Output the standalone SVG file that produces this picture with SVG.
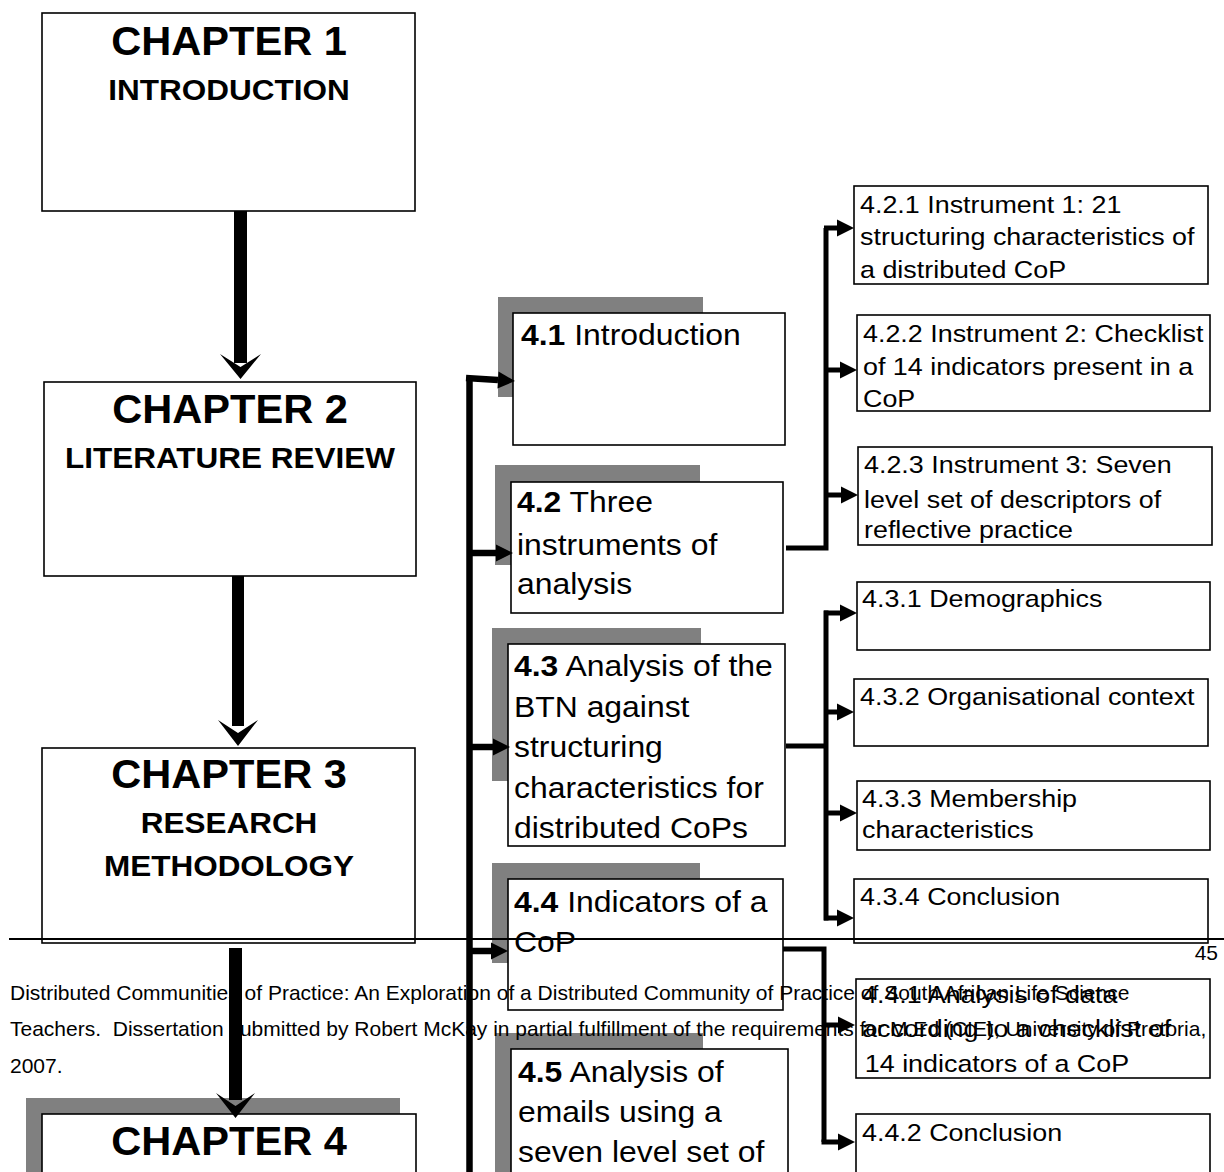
<svg xmlns="http://www.w3.org/2000/svg" width="1224" height="1172" viewBox="0 0 1224 1172">
  <style>
    text { font-family: "Liberation Sans", Arial, sans-serif; fill: #000; }
    .ch { font-size: 40px; font-weight: bold; text-anchor: middle; }
    .sub { font-size: 30px; font-weight: bold; text-anchor: middle; }
    .bx { font-size: 29px; }
    .sm { font-size: 24px; }
    .ft { font-size: 21px; }
    .b { font-weight: bold; }
    .box { fill: #fff; stroke: #000; stroke-width: 1.6; }
    .shadow { fill: #808080; }
    .thick { fill: none; stroke: #000; stroke-width: 6.5; }
    .thin { fill: none; stroke: #000; stroke-width: 5; }
  </style>
  <defs>
    <marker id="tri" markerUnits="userSpaceOnUse" markerWidth="18" markerHeight="18" refX="0" refY="9" orient="auto" overflow="visible">
      <path d="M0,0.5 L17,9 L0,17.5 Z" fill="#000"/>
    </marker>
  </defs>

  <rect width="1224" height="1172" fill="#fff"/>

  <!-- chapter column -->
  <g id="chapter1">
    <rect class="box" x="42" y="13" width="373" height="198"/>
    <text class="ch" transform="translate(229,55) scale(1.04,1)">CHAPTER 1</text>
    <text class="sub" transform="translate(229,100) scale(1.05,1)">INTRODUCTION</text>
  </g>
  <g id="chapter2">
    <rect class="box" x="44" y="382" width="372" height="194"/>
    <text class="ch" transform="translate(230,423) scale(1.04,1)">CHAPTER 2</text>
    <text class="sub" transform="translate(230,468) scale(1.05,1)">LITERATURE REVIEW</text>
  </g>
  <g id="chapter3">
    <rect class="box" x="42" y="748" width="373" height="195"/>
    <text class="ch" transform="translate(229,788) scale(1.04,1)">CHAPTER 3</text>
    <text class="sub" transform="translate(229,833) scale(1.05,1)">RESEARCH</text>
    <text class="sub" transform="translate(229,876) scale(1.05,1)">METHODOLOGY</text>
  </g>
  <g id="chapter4">
    <rect class="shadow" x="26" y="1098" width="374" height="100"/>
    <rect class="box" x="42" y="1114" width="374" height="90"/>
    <text class="ch" transform="translate(229,1155) scale(1.04,1)">CHAPTER 4</text>
  </g>

  <!-- section column -->
  <g id="s4-1">
    <rect class="shadow" x="498" y="297" width="205" height="100"/>
    <rect class="box" x="513" y="313" width="272" height="132"/>
    <text class="bx" transform="translate(521,345) scale(1.1,1)"><tspan class="b">4.1</tspan> Introduction</text>
  </g>
  <g id="s4-2">
    <rect class="shadow" x="495" y="465" width="205" height="100"/>
    <rect class="box" x="511" y="482" width="272" height="131"/>
    <text class="bx" transform="translate(517,0) scale(1.1,1)"><tspan x="0" y="512"><tspan class="b">4.2</tspan> Three</tspan><tspan x="0" y="555">instruments of</tspan><tspan x="0" y="594">analysis</tspan></text>
  </g>
  <g id="s4-3">
    <rect class="shadow" x="492" y="628" width="209" height="153"/>
    <rect class="box" x="508" y="644" width="277" height="202"/>
    <text class="bx" transform="translate(514,0) scale(1.1,1)"><tspan x="0" y="676"><tspan class="b">4.3</tspan> Analysis of the</tspan><tspan x="0" y="717">BTN against</tspan><tspan x="0" y="757">structuring</tspan><tspan x="0" y="798">characteristics for</tspan><tspan x="0" y="838">distributed CoPs</tspan></text>
  </g>
  <g id="s4-4">
    <rect class="shadow" x="492" y="863" width="208" height="100"/>
    <rect class="box" x="508" y="879" width="275" height="131"/>
    <text class="bx" transform="translate(514,0) scale(1.1,1)"><tspan x="0" y="912"><tspan class="b">4.4</tspan> Indicators of a</tspan><tspan x="0" y="952">CoP</tspan></text>
  </g>
  <g id="s4-5">
    <rect class="shadow" x="495" y="1033" width="208" height="160"/>
    <rect class="box" x="511" y="1049" width="277" height="160"/>
    <text class="bx" transform="translate(518,0) scale(1.1,1)"><tspan x="0" y="1082"><tspan class="b">4.5</tspan> Analysis of</tspan><tspan x="0" y="1122">emails using a</tspan><tspan x="0" y="1162">seven level set of</tspan></text>
  </g>

  <!-- sub-section column -->
  <g id="s4-2-1">
    <rect class="box" x="854" y="186" width="354" height="98"/>
    <text class="sm" transform="translate(860,0) scale(1.12,1)"><tspan x="0" y="213">4.2.1 Instrument 1: 21</tspan><tspan x="0" y="245">structuring characteristics of</tspan><tspan x="0" y="278">a distributed CoP</tspan></text>
  </g>
  <g id="s4-2-2">
    <rect class="box" x="857" y="315" width="353" height="96"/>
    <text class="sm" transform="translate(863,0) scale(1.12,1)"><tspan x="0" y="342">4.2.2 Instrument 2: Checklist</tspan><tspan x="0" y="375">of 14 indicators present in a</tspan><tspan x="0" y="407">CoP</tspan></text>
  </g>
  <g id="s4-2-3">
    <rect class="box" x="858" y="447" width="354" height="98"/>
    <text class="sm" transform="translate(864,0) scale(1.12,1)"><tspan x="0" y="473">4.2.3 Instrument 3: Seven</tspan><tspan x="0" y="508">level set of descriptors of</tspan><tspan x="0" y="538">reflective practice</tspan></text>
  </g>
  <g id="s4-3-1">
    <rect class="box" x="857" y="582" width="353" height="68"/>
    <text class="sm" transform="translate(862,607) scale(1.12,1)">4.3.1 Demographics</text>
  </g>
  <g id="s4-3-2">
    <rect class="box" x="854" y="679" width="354" height="67"/>
    <text class="sm" transform="translate(860,705) scale(1.12,1)">4.3.2 Organisational context</text>
  </g>
  <g id="s4-3-3">
    <rect class="box" x="857" y="781" width="353" height="69"/>
    <text class="sm" transform="translate(862,0) scale(1.12,1)"><tspan x="0" y="807">4.3.3 Membership</tspan><tspan x="0" y="838">characteristics</tspan></text>
  </g>
  <g id="s4-3-4">
    <rect class="box" x="854" y="879" width="354" height="64"/>
    <text class="sm" transform="translate(860,905) scale(1.12,1)">4.3.4 Conclusion</text>
  </g>
  <g id="s4-4-1">
    <rect class="box" x="856" y="979" width="354" height="99"/>
    <text class="sm" transform="translate(862,0) scale(1.12,1)"><tspan x="0" y="1003">4.4.1 Analysis of data</tspan><tspan x="0" y="1037">according to a checklist of</tspan><tspan x="2.5" y="1072">14 indicators of a CoP</tspan></text>
  </g>
  <g id="s4-4-2">
    <rect class="box" x="856" y="1114" width="354" height="90"/>
    <text class="sm" transform="translate(862,1141) scale(1.12,1)">4.4.2 Conclusion</text>
  </g>

  <!-- page footer -->
  <g id="footer">
    <line x1="9" y1="939" x2="1224" y2="939" stroke="#000" stroke-width="2"/>
    <text class="ft" x="1218" y="960" text-anchor="end" font-size="22">45</text>
    <text class="ft" x="10" y="1000">Distributed Communities of Practice: An Exploration of a Distributed Community of Practice of South African Life Science</text>
    <text class="ft" x="10" y="1036" xml:space="preserve">Teachers.  Dissertation submitted by Robert McKay in partial fulfillment of the requirements for M.Ed (CIE), University of Pretoria,</text>
    <text class="ft" x="10" y="1073">2007.</text>
  </g>

  <!-- connectors -->
  <g id="connectors">
    <!-- chapter to chapter -->
    <rect x="234" y="211" width="13" height="152" fill="#000"/>
    <polygon points="220,354 240.5,367 261,354 240.5,379" fill="#000"/>
    <rect x="232" y="576" width="12" height="150" fill="#000"/>
    <polygon points="218,720 238,733 258,720 238,746" fill="#000"/>
    <rect x="229" y="948" width="13" height="152" fill="#000"/>
    <polygon points="216,1093 235.5,1106 255,1093 235.5,1118" fill="#000"/>

    <!-- trunk to sections -->
    <path class="thick" d="M469.5,377 V1172"/>
    <path class="thick" d="M466,378 L498,380" marker-end="url(#tri)"/>
    <path class="thick" d="M469,553 H496" marker-end="url(#tri)"/>
    <path class="thick" d="M469,747 H493" marker-end="url(#tri)"/>
    <path class="thick" d="M469,951 H491" marker-end="url(#tri)"/>

    <!-- 4.2 to instruments -->
    <path class="thin" d="M786,548 H826 V228"/>
    <path class="thin" d="M824,228 H837" marker-end="url(#tri)"/>
    <path class="thin" d="M826,370 H840" marker-end="url(#tri)"/>
    <path class="thin" d="M826,495 H841" marker-end="url(#tri)"/>

    <!-- 4.3 to sub-sections -->
    <path class="thin" d="M786,746 H826"/>
    <path class="thin" d="M826,610.5 V920.5"/>
    <path class="thin" d="M824,613 H840" marker-end="url(#tri)"/>
    <path class="thin" d="M826,712 H837" marker-end="url(#tri)"/>
    <path class="thin" d="M826,813 H840" marker-end="url(#tri)"/>
    <path class="thin" d="M824,918 H837" marker-end="url(#tri)"/>

    <!-- 4.4 to sub-sections -->
    <path class="thin" d="M783,949 H824 V1142"/>
    <path class="thin" d="M824,1025 H838" marker-end="url(#tri)"/>
    <path class="thin" d="M821.5,1142 H838" marker-end="url(#tri)"/>
  </g>
</svg>
